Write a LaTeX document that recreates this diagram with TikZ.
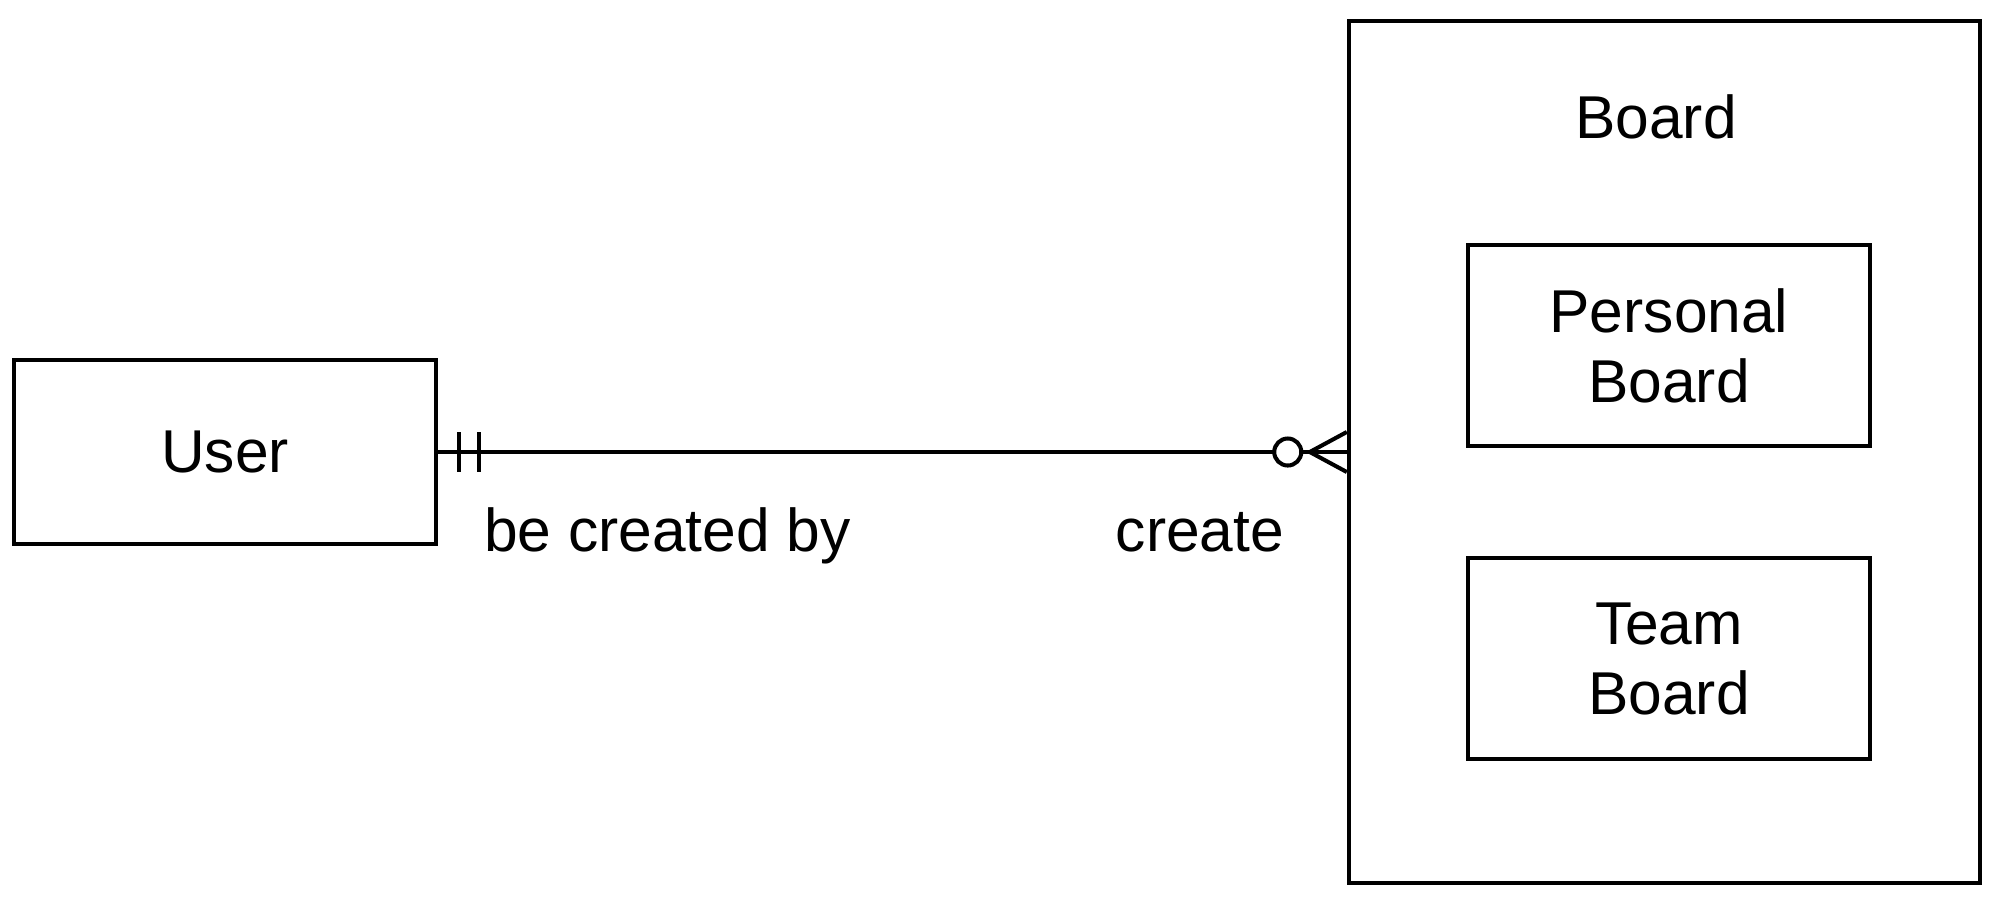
\documentclass[tikz,border=0pt]{standalone}
\usepackage{fontspec}
\setmainfont{Liberation Sans}
\usepackage{tikz}

\begin{document}
\begin{tikzpicture}[x=0.01cm, y=-0.01cm, line width=1.15pt,
    entity/.style={draw, line width=1.15pt, inner sep=0pt, align=center,
        font=\fontsize{17.2pt}{19.9pt}\selectfont},
    reltext/.style={inner sep=0pt, font=\fontsize{17.2pt}{19.9pt}\selectfont}]
    \useasboundingbox (0,0) rectangle (1999,902);

    \node[entity, minimum width=4.22cm, minimum height=1.84cm] (user) at (225,452) {User};
    \node[entity, minimum width=6.31cm, minimum height=8.62cm] (board) at (1664.5,452) {};
    \node[reltext, anchor=base] (boardtitle) at (1656,138) {Board};
    \node[entity, minimum width=4.02cm, minimum height=2.01cm] (personal) at (1669,345.5) {Personal\\Board};
    \node[entity, minimum width=4.02cm, minimum height=2.01cm] (team) at (1669,658.5) {Team\\Board};

    \draw (user.east) -- (board.west);

    % exactly one
    \draw ([xshift=0.21cm, yshift=0.2cm]user.east) -- ([xshift=0.21cm, yshift=-0.2cm]user.east);
    \draw ([xshift=0.41cm, yshift=0.2cm]user.east) -- ([xshift=0.41cm, yshift=-0.2cm]user.east);

    % zero or many
    \draw[fill=white] ([xshift=-0.59cm]board.west) circle (0.135cm);
    \draw ([xshift=-0.37cm]board.west) -- ([yshift=0.2cm]board.west);
    \draw ([xshift=-0.37cm]board.west) -- ([yshift=-0.2cm]board.west);

    \node[reltext, anchor=base west] (createdby) at (482,551) {be created by};
    \node[reltext, anchor=base east] (create) at (1286,551) {create};
\end{tikzpicture}
\end{document}
